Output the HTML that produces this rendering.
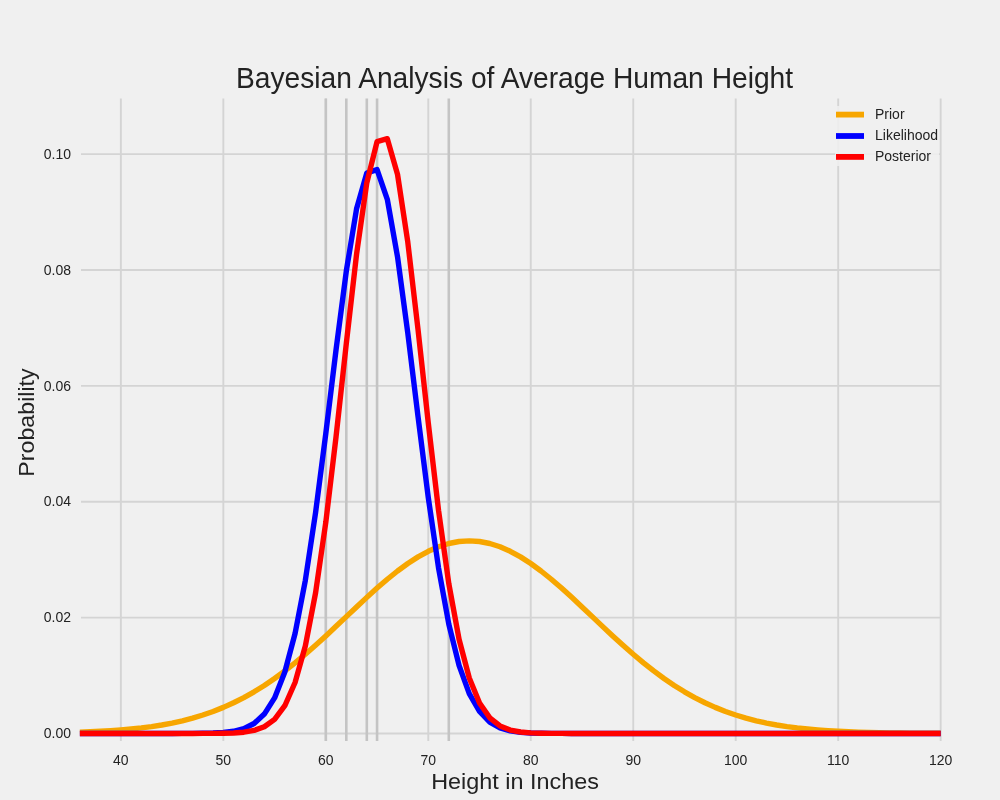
<!DOCTYPE html>
<html><head><meta charset="utf-8"><style>
html,body{margin:0;padding:0;background:#f0f0f0;width:1000px;height:800px;overflow:hidden}
svg{display:block;will-change:transform}
text{font-family:"Liberation Sans",sans-serif;fill:#222}
</style></head><body>
<svg width="1000" height="800" viewBox="0 0 1000 800">
<rect width="1000" height="800" fill="#f0f0f0"/>
<g stroke="#d4d4d4" stroke-width="1.9"><line x1="120.86" y1="98.5" x2="120.86" y2="741"/><line x1="223.34" y1="98.5" x2="223.34" y2="741"/><line x1="325.82" y1="98.5" x2="325.82" y2="741"/><line x1="428.29" y1="98.5" x2="428.29" y2="741"/><line x1="530.77" y1="98.5" x2="530.77" y2="741"/><line x1="633.25" y1="98.5" x2="633.25" y2="741"/><line x1="735.72" y1="98.5" x2="735.72" y2="741"/><line x1="838.20" y1="98.5" x2="838.20" y2="741"/><line x1="940.68" y1="98.5" x2="940.68" y2="741"/><line x1="81" y1="733.44" x2="941" y2="733.44"/><line x1="81" y1="617.58" x2="941" y2="617.58"/><line x1="81" y1="501.73" x2="941" y2="501.73"/><line x1="81" y1="385.87" x2="941" y2="385.87"/><line x1="81" y1="270.01" x2="941" y2="270.01"/><line x1="81" y1="154.15" x2="941" y2="154.15"/></g>
<g stroke="#c4c4c4" stroke-width="2.6"><line x1="325.82" y1="98.5" x2="325.82" y2="741"/><line x1="346.31" y1="98.5" x2="346.31" y2="741"/><line x1="366.81" y1="98.5" x2="366.81" y2="741"/><line x1="377.06" y1="98.5" x2="377.06" y2="741"/><line x1="448.79" y1="98.5" x2="448.79" y2="741"/></g>
<g fill="none" stroke-width="5.4" stroke-linejoin="round" stroke-linecap="butt">
<path d="M79.87,732.16 L90.12,731.78 L100.37,731.30 L110.62,730.70 L120.86,729.96 L131.11,729.05 L141.36,727.94 L151.61,726.59 L161.85,724.98 L172.10,723.05 L182.35,720.78 L192.60,718.12 L202.84,715.02 L213.09,711.45 L223.34,707.38 L233.59,702.76 L243.84,697.57 L254.08,691.79 L264.33,685.42 L274.58,678.45 L284.83,670.92 L295.07,662.84 L305.32,654.27 L315.57,645.27 L325.82,635.93 L336.06,626.34 L346.31,616.63 L356.56,606.92 L366.81,597.35 L377.06,588.07 L387.30,579.23 L397.55,570.99 L407.80,563.48 L418.05,556.87 L428.29,551.26 L438.54,546.78 L448.79,543.51 L459.04,541.52 L469.28,540.86 L479.53,541.52 L489.78,543.51 L500.03,546.78 L510.28,551.26 L520.52,556.87 L530.77,563.48 L541.02,570.99 L551.27,579.23 L561.51,588.07 L571.76,597.35 L582.01,606.92 L592.26,616.63 L602.50,626.34 L612.75,635.93 L623.00,645.27 L633.25,654.27 L643.50,662.84 L653.74,670.92 L663.99,678.45 L674.24,685.42 L684.49,691.79 L694.73,697.57 L704.98,702.76 L715.23,707.38 L725.48,711.45 L735.72,715.02 L745.97,718.12 L756.22,720.78 L766.47,723.05 L776.72,724.98 L786.96,726.59 L797.21,727.94 L807.46,729.05 L817.71,729.96 L827.95,730.70 L838.20,731.30 L848.45,731.78 L858.70,732.16 L868.95,732.46 L879.19,732.70 L889.44,732.88 L899.69,733.02 L909.94,733.13 L920.18,733.21 L930.43,733.27 L940.68,733.32" stroke="#f7a600"/>
<path d="M79.87,733.44 L90.12,733.44 L100.37,733.44 L110.62,733.44 L120.86,733.44 L131.11,733.44 L141.36,733.44 L151.61,733.44 L161.85,733.44 L172.10,733.43 L182.35,733.42 L192.60,733.39 L202.84,733.30 L213.09,733.06 L223.34,732.50 L233.59,731.25 L243.84,728.64 L254.08,723.50 L264.33,714.08 L274.58,697.91 L284.83,672.05 L295.07,633.56 L305.32,580.41 L315.57,512.65 L325.82,433.46 L336.06,349.64 L346.31,271.05 L356.56,208.85 L366.81,173.00 L377.06,169.62 L387.30,199.31 L397.55,256.94 L407.80,333.15 L418.05,416.79 L428.29,497.56 L438.54,567.97 L448.79,624.14 L459.04,665.45 L469.28,693.62 L479.53,711.47 L489.78,722.03 L500.03,727.86 L510.28,730.87 L520.52,732.33 L530.77,732.98 L541.02,733.26 L551.27,733.38 L561.51,733.42 L571.76,733.43 L582.01,733.44 L592.26,733.44 L602.50,733.44 L612.75,733.44 L623.00,733.44 L633.25,733.44 L643.50,733.44 L653.74,733.44 L663.99,733.44 L674.24,733.44 L684.49,733.44 L694.73,733.44 L704.98,733.44 L715.23,733.44 L725.48,733.44 L735.72,733.44 L745.97,733.44 L756.22,733.44 L766.47,733.44 L776.72,733.44 L786.96,733.44 L797.21,733.44 L807.46,733.44 L817.71,733.44 L827.95,733.44 L838.20,733.44 L848.45,733.44 L858.70,733.44 L868.95,733.44 L879.19,733.44 L889.44,733.44 L899.69,733.44 L909.94,733.44 L920.18,733.44 L930.43,733.44 L940.68,733.44" stroke="#0000ff"/>
<path d="M79.87,733.44 L90.12,733.44 L100.37,733.44 L110.62,733.44 L120.86,733.44 L131.11,733.44 L141.36,733.44 L151.61,733.44 L161.85,733.44 L172.10,733.44 L182.35,733.44 L192.60,733.43 L202.84,733.42 L213.09,733.38 L223.34,733.26 L233.59,732.96 L243.84,732.20 L254.08,730.45 L264.33,726.73 L274.58,719.33 L284.83,705.73 L295.07,682.52 L305.32,645.96 L315.57,592.87 L325.82,522.23 L336.06,436.65 L346.31,343.45 L356.56,254.21 L366.81,182.73 L377.06,141.63 L387.30,138.70 L397.55,174.51 L407.80,242.22 L418.05,329.73 L428.29,423.16 L438.54,510.43 L448.79,583.55 L459.04,639.23 L469.28,678.06 L479.53,703.00 L489.78,717.79 L500.03,725.92 L510.28,730.06 L520.52,732.02 L530.77,732.88 L541.02,733.23 L551.27,733.37 L561.51,733.42 L571.76,733.43 L582.01,733.44 L592.26,733.44 L602.50,733.44 L612.75,733.44 L623.00,733.44 L633.25,733.44 L643.50,733.44 L653.74,733.44 L663.99,733.44 L674.24,733.44 L684.49,733.44 L694.73,733.44 L704.98,733.44 L715.23,733.44 L725.48,733.44 L735.72,733.44 L745.97,733.44 L756.22,733.44 L766.47,733.44 L776.72,733.44 L786.96,733.44 L797.21,733.44 L807.46,733.44 L817.71,733.44 L827.95,733.44 L838.20,733.44 L848.45,733.44 L858.70,733.44 L868.95,733.44 L879.19,733.44 L889.44,733.44 L899.69,733.44 L909.94,733.44 L920.18,733.44 L930.43,733.44 L940.68,733.44" stroke="#ff0000"/>
</g>
<g font-size="14" text-anchor="middle"><text transform="translate(120.86,765) scale(1,1.04)">40</text><text transform="translate(223.34,765) scale(1,1.04)">50</text><text transform="translate(325.82,765) scale(1,1.04)">60</text><text transform="translate(428.29,765) scale(1,1.04)">70</text><text transform="translate(530.77,765) scale(1,1.04)">80</text><text transform="translate(633.25,765) scale(1,1.04)">90</text><text transform="translate(735.72,765) scale(1,1.04)">100</text><text transform="translate(838.20,765) scale(1,1.04)">110</text><text transform="translate(940.68,765) scale(1,1.04)">120</text></g>
<g font-size="14" text-anchor="end"><text transform="translate(71,738.14) scale(1,1.04)">0.00</text><text transform="translate(71,622.28) scale(1,1.04)">0.02</text><text transform="translate(71,506.43) scale(1,1.04)">0.04</text><text transform="translate(71,390.57) scale(1,1.04)">0.06</text><text transform="translate(71,274.71) scale(1,1.04)">0.08</text><text transform="translate(71,158.85) scale(1,1.04)">0.10</text></g>
<text transform="translate(514.5,87.9) scale(1,1.04)" font-size="28.2" text-anchor="middle">Bayesian Analysis of Average Human Height</text>
<text transform="translate(515,788.6) scale(1,0.98)" font-size="23.4" text-anchor="middle">Height in Inches</text>
<text transform="translate(33.6,422.5) rotate(-90) scale(1,0.97)" font-size="23.2" text-anchor="middle">Probability</text>
<rect x="835" y="106" width="104" height="60" fill="#f0f0f0" opacity="0.85"/>
<g stroke-width="5.8">
<line x1="836" y1="114.6" x2="864" y2="114.6" stroke="#f7a600"/>
<line x1="836" y1="136" x2="864" y2="136" stroke="#0000ff"/>
<line x1="836" y1="156.9" x2="864" y2="156.9" stroke="#ff0000"/>
</g>
<g font-size="14">
<text x="875" y="119.2">Prior</text>
<text x="875" y="139.9">Likelihood</text>
<text x="875" y="160.6">Posterior</text>
</g>
</svg>
</body></html>
